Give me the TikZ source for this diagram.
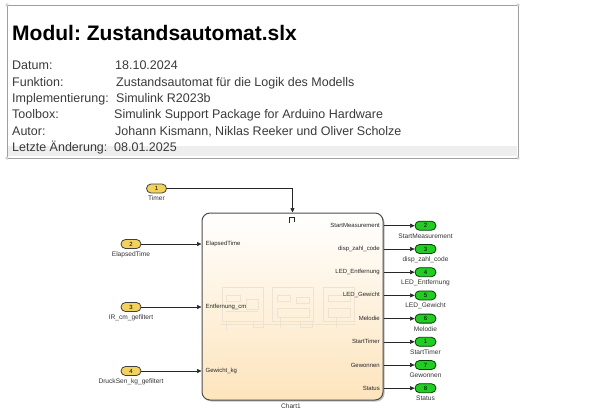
\documentclass[tikz,border=0pt]{standalone}
\usepackage{fontspec}
\setmainfont{Liberation Sans}
\usetikzlibrary{arrows.meta}
\frenchspacing
\definecolor{inyellow}{HTML}{F2D25C}
\definecolor{outgreen}{HTML}{22CC22}
\definecolor{chartbot}{HTML}{FDE4BC}
\definecolor{infogray}{HTML}{3A3A3A}
\definecolor{thumb}{HTML}{EDE3D2}
\tikzset{
  inport/.style={draw=black!75, fill=inyellow, rounded corners=4.5pt, minimum width=20pt, minimum height=9pt, inner sep=0pt, line width=0.8pt, font=\fontsize{6}{6}\selectfont},
  outport/.style={draw=green!25!black, fill=outgreen, rounded corners=4.5pt, minimum width=21pt, minimum height=9pt, inner sep=0pt, line width=0.8pt, font=\fontsize{6}{6}\selectfont},
  sig/.style={draw=black!85, line width=0.6pt, -{Triangle[length=4.5pt,width=4pt]}},
  lbl/.style={font=\fontsize{6.6}{7}\selectfont, text=black!80, inner sep=0pt},
  plbl/.style={font=\fontsize{6}{6}\selectfont, text=black!85, inner sep=0pt},
  info/.style={font=\fontsize{12.5}{14}\selectfont, text=infogray, inner sep=0pt, anchor=base west},
  chartbox/.style={draw=black!70, line width=1pt, rounded corners=8pt, top color=white, bottom color=chartbot, minimum width=181pt, minimum height=187pt, inner sep=0pt},
  thumbline/.style={draw=thumb, line width=0.5pt}
}
\begin{document}
\begin{tikzpicture}[x=1pt,y=-1pt]
\useasboundingbox (0,0) rectangle (600,416);
% header
\fill[gray!13] (8,146) rectangle (517,156);
\draw[gray!75, line width=0.8pt] (7,5) rectangle (518,158);
\foreach \p in {(7,5),(518,5),(7,158),(518,158)} \draw[gray!70, fill=white, line width=0.4pt] \p circle (1.4pt);
\node[anchor=base west, inner sep=0pt, font=\fontsize{21}{24}\selectfont\bfseries] (title) at (12,40) {Modul: Zustandsautomat.slx};
\node[info] (k1) at (12,69.7) {Datum:};
\node[info] (v1) at (115,69.7) {18.10.2024};
\node[info] (k2) at (12,86) {Funktion:};
\node[info] (v2) at (116,86) {Zustandsautomat für die Logik des Modells};
\node[info] (k3) at (12,102.5) {Implementierung:};
\node[info] (v3) at (116,102.5) {Simulink R2023b};
\node[info] (k4) at (12,118.8) {Toolbox:};
\node[info] (v4) at (114,118.8) {Simulink Support Package for Arduino Hardware};
\node[info] (k5) at (12,135.3) {Autor:};
\node[info] (v5) at (115,135.3) {Johann Kismann, Niklas Reeker und Oliver Scholze};
\node[info] (k6) at (12,151.7) {Letzte Änderung:};
\node[info] (v6) at (114,151.7) {08.01.2025};
% chart shadow and chart
\fill[black!25, rounded corners=8pt] (203.5,214.5) rectangle (384.5,401.5);
\node[chartbox] (chart) at (292.5,306.5) {};
% faint thumbnail
\draw[thumbline] (222,287) rectangle (263,321);
\draw[thumbline] (272,287) rectangle (313,321);
\draw[thumbline] (323,287) rectangle (354,321);
\draw[thumbline] (226,295) rectangle (240,301);
\draw[thumbline] (246,299) rectangle (258,309);
\draw[thumbline] (226,311) -- (258,311);
\draw[thumbline] (277,295) rectangle (290,301);
\draw[thumbline] (296,297) rectangle (309,303);
\draw[thumbline] (277,308) rectangle (309,317);
\draw[thumbline] (328,295) rectangle (350,301);
\draw[thumbline] (328,308) rectangle (350,317);
\draw[thumbline] (220,324) -- (356,324);
\draw[thumbline] (253,321) rectangle (263,327);
\draw[thumbline] (300,321) rectangle (312,327);
\draw[thumbline] (226,321) -- (226,330) (280,318) -- (280,328) (336,318) -- (336,328);
% trigger symbol
\draw[black!85, line width=0.6pt] (288.5,222) -- (289.5,222) -- (289.5,217) -- (294.5,217) -- (294.5,222);
\node[lbl] (chartlbl) at (291,406) {Chart1};
% inports
\node[inport] (in1) at (156.5,188.5) {1};
\node[lbl, anchor=north] (in1l) at (156.5,196) {Timer};
\node[inport] (in2) at (131,244) {2};
\node[lbl, anchor=north] (in2l) at (131,251.5) {ElapsedTime};
\node[inport] (in3) at (131,307) {3};
\node[lbl, anchor=north] (in3l) at (131,314.5) {IR\_cm\_gefiltert};
\node[inport] (in4) at (131,371) {4};
\node[lbl, anchor=north] (in4l) at (131,378.5) {DruckSen\_kg\_gefiltert};
\draw[sig] (in1) -- (in1 -| chart.north) -- (chart.north);
\draw[sig] (in2) -- (in2 -| chart.west);
\draw[sig] (in3) -- (in3 -| chart.west);
\draw[sig] (in4) -- (in4 -| chart.west);
\node[plbl, anchor=west] (p2) at (205.5,244) {ElapsedTime};
\node[plbl, anchor=west] (p3) at (205.5,307) {Entfernung\_cm};
\node[plbl, anchor=west] (p4) at (205.5,371) {Gewicht\_kg};
% outports
\foreach \n/\num/\y/\t in {a/2/225.7/StartMeasurement, b/3/249/disp\_zahl\_code, c/4/272.2/LED\_Entfernung, d/5/295.4/LED\_Gewicht, e/6/318.6/Melodie, f/1/341.8/StartTimer, g/7/365/Gewonnen, h/8/388.2/Status}{
  \node[outport] (o\n) at (425.5,\y) {\num};
  \node[lbl, anchor=north] (o\n l) at (425.5,\y+7.5) {\t};
  \node[plbl, anchor=east] (q\n) at (380,\y) {\t};
  \draw[sig] (o\n -| chart.east) -- (o\n);
}
\end{tikzpicture}
\end{document}
